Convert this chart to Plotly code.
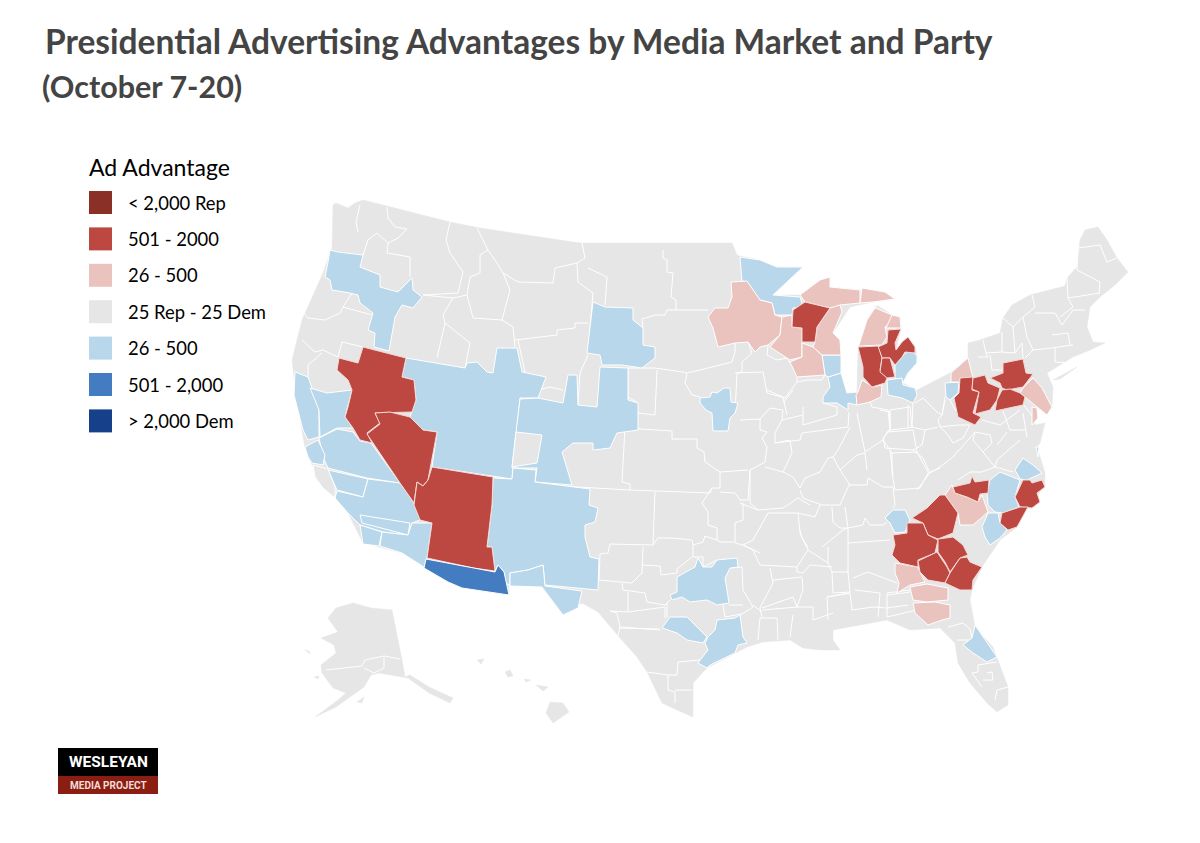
import plotly.graph_objects as go

# map shapes, x/y in picture units
US_OUTLINE = [(333,205),(336,203),(348,208),(355,203),(363,200),(450,222),(480,228),(580,243),(732,243),(737,255),(740,256),(760,260),(777,267),(803,267),(773,295),(800,295),(820,280),(830,277),(830,287),(860,290),(885,295),(895,299),(873,302),(850,307),(833,333),(840,340),(841,373),(847,393),(857,392),(858,350),(867,320),(877,305),(892,315),(900,317),(901,328),(896,350),(902,342),(908,337),(915,347),(917,355),(917,363),(908,373),(903,383),(917,390),(923,387),(950,373),(968,358),(968,343),(980,340),(1000,333),(1003,318),(1012,305),(1030,295),(1065,286),(1067,278),(1077,267),(1080,240),(1085,230),(1098,227),(1107,240),(1117,258),(1128,272),(1115,285),(1100,297),(1090,307),(1087,327),(1093,342),(1105,343),(1090,350),(1073,357),(1047,373),(1053,387),(1052,407),(1047,415),(1037,407),(1032,412),(1035,425),(1045,423),(1040,443),(1037,447),(1045,473),(1045,485),(1033,502),(1027,507),(1017,527),(1000,540),(982,567),(972,590),(970,600),(975,627),(993,647),(1008,687),(1008,705),(997,712),(987,703),(970,683),(958,663),(955,643),(940,628),(910,630),(887,620),(860,625),(833,630),(833,640),(840,650),(820,650),(803,648),(790,640),(763,642),(747,647),(707,668),(693,683),(693,717),(677,710),(662,703),(647,672),(637,657),(620,638),(598,612),(582,603),(563,615),(542,587),(509,585),(509,595),(462,588),(424,567),(402,553),(363,543),(348,513),(335,497),(312,465),(305,448),(297,403),(292,360),(302,320),(323,273),(332,248)]
LONG_ISLAND = [(1053,380),(1077,367),(1060,379)]
ALASKA = [(336,608),(353,603),(371,608),(392,610),(402,660),(405,677),(410,675),(429,687),(453,698),(450,703),(429,693),(408,678),(379,673),(371,675),(364,687),(350,697),(336,707),(315,717),(338,700),(346,693),(333,688),(322,673),(321,665),(336,653),(334,645),(321,638),(338,632),(328,618)]
ALASKA_KODIAK = [(357,702),(364,697),(362,703)]
ALASKA_NUNIVAK = [(314,677),(319,676),(318,679)]
ALASKA_LAWRENCE = [(305,650),(309,651),(310,654)]
HAWAII_BIG = [(550,702),(563,703),(569,712),(553,723),(546,713)]
HAWAII_MAUI = [(536,685),(548,687),(543,691)]
HAWAII_OAHU = [(505,672),(510,670),(513,676),(508,677)]
HAWAII_KAUAI = [(477,660),(484,659),(481,664)]
HAWAII_MOLOKAI = [(524,679),(531,680),(526,682)]

GRAY_LINES = [
    [(387,207),(388,218),(395,227),(407,229),(398,238),(388,243),(387,253),(410,257),(410,277)],
    [(377,233),(368,240),(363,255)], [(377,233),(388,243)],
    [(450,222),(446,240),(450,253),(463,272),(458,293),(423,295)],
    [(477,228),(488,250),(480,255),(480,273),(470,277),(467,295),(473,318),(502,320),(510,290),(503,273),(497,263),(488,250)],
    [(503,273),(518,282),(553,283),(555,268),(577,263),(585,258),(582,243)],
    [(577,263),(578,282),(593,293),(588,353)], [(588,268),(607,277),(605,305)],
    [(423,295),(453,298),(443,315),(445,323),(437,358)], [(445,323),(470,343),(465,368)], [(453,298),(467,295)],
    [(502,320),(513,327),(515,347)], [(515,340),(557,335),(557,330),(575,328),(575,323),(588,323)],
    [(518,340),(525,372)], [(538,390),(550,387),(563,390)], [(578,405),(580,373),(588,355)],
    [(303,312),(308,318),(325,320),(340,313),(343,307),(372,315)], [(343,307),(352,293)],
    [(302,340),(315,352),(323,350),(338,357)], [(338,357),(342,342),(363,347)], [(308,365),(322,353)], [(308,388),(308,365)],
    [(663,250),(663,258),(667,260),(667,272),(673,273),(671,297),(676,300),(676,310),(667,310),(665,315),(655,315),(642,319),(643,328)],
    [(676,310),(708,310)], [(628,368),(655,368),(683,372),(687,373),(712,367),(732,362),(735,352),(735,343)],
    [(748,342),(752,353),(742,362),(742,372),(737,373),(735,413)],
    [(768,345),(767,355),(777,360),(787,358),(790,363)],
    [(797,377),(797,382),(785,398),(767,393),(763,372),(735,373)], [(825,375),(822,380),(808,380),(797,382)],
    [(628,368),(628,397),(638,403)], [(657,370),(655,415),(638,413)], [(687,373),(685,383),(692,395),(700,397)],
    [(625,428),(672,431),(672,439),(697,439),(697,448),(704,452),(705,462),(718,470),(720,472),(748,470)],
    [(625,428),(622,482),(630,484),(630,490)], [(560,486),(630,490),(710,493),(712,488),(720,488),(720,472)],
    [(720,492),(735,493),(740,500),(748,500),(750,470)], [(655,492),(653,545),(610,544),(608,553),(600,554),(599,580)],
    [(599,580),(632,583),(642,573),(643,547)],
    [(653,545),(658,538),(672,538),(692,540),(693,545),(703,542),(705,536),(717,540),(720,542),(735,542),(735,523),(743,520),(743,503)],
    [(717,540),(717,528),(708,525),(708,512),(702,503),(712,488)],
    [(693,545),(693,557),(703,557),(703,567),(717,560)],
    [(643,565),(660,566),(661,575),(677,573),(677,569),(692,557)],
    [(622,583),(623,590),(645,593),(647,602),(665,605),(670,600)],
    [(628,592),(628,612),(610,611),(617,613),(620,627),(617,640)], [(628,612),(665,607),(665,618)], [(620,627),(660,630)],
    [(723,605),(725,617),(742,614),(753,607),(743,590),(742,567),(731,568)], [(735,543),(743,545),(760,553)],
    [(740,420),(760,419),(760,430),(767,432),(762,438),(767,447),(765,462),(750,470),(750,503),(758,510),(783,508),(798,498),(810,505)],
    [(775,443),(790,440),(792,453),(783,472),(765,467)],
    [(783,472),(793,477),(800,488),(805,478),(820,472),(828,458),(833,457)], [(800,490),(803,498)],
    [(803,498),(822,505),(840,505),(848,487),(850,485),(840,470),(833,457)],
    [(848,485),(867,485),(868,478),(883,487),(893,487),(895,505),(893,508)],
    [(840,470),(857,455),(865,453),(867,470)],
    [(865,452),(883,440),(892,453),(892,473),(895,490),(920,488),(928,473),(940,468)],
    [(892,453),(917,452),(928,472)], [(883,440),(887,432),(913,430),(915,443),(917,452)],
    [(887,432),(890,430),(890,410),(910,407),(912,428)],
    [(865,452),(859,423),(857,413)], [(850,427),(838,450),(833,457)],
    [(802,433),(848,427),(849,412)], [(803,407),(803,425),(837,415),(837,407),(823,403)],
    [(802,433),(800,440),(775,443)], [(783,410),(770,408),(760,419)], [(783,410),(782,420),(775,433),(775,443)], [(782,420),(803,415)],
    [(767,390),(783,397),(787,415)], [(793,390),(783,403)], [(740,503),(758,510)],
    [(768,513),(753,540),(743,545),(753,550),(760,565),(797,567),(808,550),(828,563),(828,547)],
    [(768,513),(798,513),(800,533),(808,550)], [(798,513),(815,517),(820,505)], [(800,530),(802,538),(808,547)],
    [(832,507),(833,522),(840,528),(848,528),(845,507)], [(822,547),(843,530),(848,528)],
    [(848,528),(848,572),(832,572),(828,563)], [(848,528),(863,525),(865,518),(870,525),(883,525),(887,522)],
    [(848,543),(890,540)], [(853,578),(868,572),(897,583)], [(797,567),(797,572),(803,573),(810,565),(832,567)],
    [(770,568),(773,583),(760,608),(762,617)], [(773,580),(802,577),(803,590),(797,607),(763,610)],
    [(832,572),(833,593),(850,592),(848,572)], [(827,597),(850,593)], [(827,597),(828,620)],
    [(887,593),(910,590)], [(887,593),(887,617),(917,610)], [(855,590),(880,593),(878,617)],
    [(880,410),(890,412),(890,430),(908,428),(908,405)], [(915,403),(923,398),(937,412),(942,415),(945,400)],
    [(942,415),(938,420),(940,427),(958,425),(970,425)], [(970,425),(963,438),(953,443),(948,435),(940,427)],
    [(908,428),(912,427),(925,430),(938,427)], [(890,430),(883,438),(885,448),(913,450),(922,445),(925,430)],
    [(913,450),(923,458),(930,473),(940,467),(953,457),(975,432),(990,435)], [(975,432),(973,440),(983,452),(992,443),(990,435)],
    [(983,452),(995,467),(997,460),(1020,440)], [(1007,432),(1002,438),(997,445)], [(890,450),(893,475)],
    [(930,473),(917,490)], [(958,480),(970,472),(982,472),(995,467)], [(995,467),(1013,472)],
    [(983,340),(986,353),(988,357),(978,357)], [(986,353),(1002,352),(1002,332)], [(990,355),(992,370),(1003,370)],
    [(1002,352),(1015,353),(1022,343),(1023,359)], [(1015,353),(1013,327),(1003,318)],
    [(1013,327),(1023,317),(1027,337),(1033,350),(1025,358)], [(1023,317),(1035,307),(1032,295)],
    [(1033,350),(1052,348),(1073,345)], [(1035,313),(1055,313),(1062,325),(1073,310),(1085,310)],
    [(1052,335),(1068,333),(1070,345)], [(1055,348),(1055,362),(1073,363)], [(1068,298),(1073,307),(1060,317)],
    [(1067,278),(1068,298),(1100,293)], [(1077,270),(1100,282),(1099,293)], [(1078,248),(1100,245),(1107,262),(1117,258)], [(1077,270),(1078,248)],
    [(326,670),(362,666),(365,660),(384,656),(400,659)], [(364,668),(374,673),(384,668),(384,657)],
    [(978,665),(978,672),(972,673),(982,687)], [(983,680),(993,680),(992,672),(987,673)], [(997,690),(1008,687)], [(997,690),(995,700)], [(978,665),(997,662)],
    [(948,627),(963,623),(970,629),(972,638)], [(957,640),(972,640)],
    [(762,608),(793,597),(797,607)], [(813,607),(813,620),(833,613)], [(797,607),(813,607)],
    [(758,640),(760,618),(777,618),(778,640)], [(790,637),(793,615)],
    [(827,597),(850,593),(852,610),(873,607),(887,608),(908,605)], [(888,595),(910,592)],
    [(667,603),(667,617)], [(620,628),(660,629)], [(678,662),(700,660)], [(678,662),(677,675),(668,675),(668,690),(675,692),(675,703)],
    [(647,672),(668,675)], [(675,690),(692,690)], [(729,605),(743,605)], [(753,605),(762,612)],
    [(870,402),(872,407),(888,410),(890,430)], [(913,403),(912,427)], [(945,397),(942,415)], [(950,400),(955,410),(968,422)],
    [(982,420),(1000,425),(1020,410)], [(1003,411),(1010,430),(1025,430)], [(1024,405),(1035,420)],
    [(360,205),(356,222),(358,232)], [(305,417),(305,425)], [(1023,413),(1027,437)],
]

REP_MID = [
    [(363,347),(406,358),(402,377),(414,380),(416,400),(412,412),(375,413),(380,423),(367,433),(372,443),(360,440),(353,428),(345,417),(348,407),(352,390),(348,380),(337,370),(339,358),(358,363)],
    [(375,413),(390,412),(410,417),(423,430),(437,432),(428,480),(423,486),(417,482),(414,503),(400,483),(367,434),(380,424)],
    [(432,467),(493,477),(492,505),(487,547),(492,547),(495,571),(473,568),(427,558),(432,523),(420,520),(414,505),(417,482),(423,486),(428,480)],
    [(805,302),(830,308),(817,327),(815,342),(802,342),(802,328),(792,327),(793,310)],
    [(888,330),(901,329),(895,343),(896,350),(902,342),(908,337),(915,347),(915,353),(905,352),(902,357),(895,365),(890,358),(882,358),(878,347),(887,343)],
    [(858,347),(878,346),(882,358),(880,370),(887,378),(885,383),(872,387),(863,377),(863,367)],
    [(882,358),(890,358),(895,377),(887,378),(880,372)],
    [(960,378),(973,377),(972,390),(979,392),(973,413),(981,417),(975,425),(968,422),(958,417),(954,398),(959,393)],
    [(973,378),(985,375),(988,383),(1000,388),(997,400),(990,410),(975,414),(979,392),(972,389)],
    [(990,378),(1003,373),(1003,363),(1023,359),(1026,373),(1033,374),(1023,387),(1007,390),(1002,388),(1000,383)],
    [(1002,390),(1010,389),(1020,393),(1025,397),(1023,405),(995,411),(997,400)],
    [(953,487),(970,483),(972,476),(975,482),(989,480),(988,493),(980,494),(978,502),(967,497),(955,493)],
    [(1017,493),(1023,480),(1030,480),(1032,483),(1042,480),(1045,487),(1037,493),(1040,502),(1032,508),(1020,507),(1015,497)],
    [(1002,513),(1020,507),(1028,507),(1017,527),(1008,530),(1000,523)],
    [(912,518),(927,508),(940,495),(945,495),(958,513),(953,533),(938,539),(928,535),(923,523)],
    [(893,535),(907,533),(907,523),(923,523),(928,535),(938,540),(935,553),(918,560),(918,567),(900,563),(892,555),(895,545)],
    [(938,539),(953,537),(963,545),(968,555),(960,558),(950,572),(945,562),(938,552)],
    [(918,561),(937,552),(947,567),(950,573),(945,583),(928,580),(920,572)],
    [(950,573),(960,558),(967,557),(970,562),(982,567),(973,580),(972,590),(960,590),(945,583)],
]
REP_LIGHT = [
    [(731,282),(747,281),(760,300),(772,303),(775,315),(782,317),(780,335),(768,345),(760,347),(755,352),(748,342),(735,343),(718,347),(713,328),(708,317),(715,308),(728,308),(732,297)],
    [(782,317),(792,315),(792,327),(802,328),(802,357),(790,360),(770,347),(780,335)],
    [(802,343),(813,347),(822,355),(825,375),(797,377),(790,362),(802,357)],
    [(800,295),(820,280),(830,277),(830,287),(860,290),(860,303),(840,305),(833,310),(830,308),(805,302)],
    [(830,308),(840,305),(842,312),(833,333),(840,340),(841,355),(822,355),(813,347),(815,342),(817,327)],
    [(862,288),(885,292),(895,299),(873,302),(860,303)],
    [(873,307),(892,315),(893,322),(885,327),(887,337),(882,345),(860,346),(858,348),(867,320),(877,305)],
    [(892,315),(900,317),(901,328),(886,328)],
    [(862,380),(873,387),(882,385),(881,397),(870,402),(857,405),(856,395),(858,392)],
    [(968,358),(972,375),(973,378),(960,378),(960,382),(951,382),(951,373)],
    [(1023,388),(1033,378),(1042,388),(1052,407),(1047,415),(1037,407),(1025,397),(1020,393)],
    [(1032,407),(1037,408),(1038,418),(1032,425)],
    [(945,495),(952,485),(955,493),(967,497),(978,502),(982,495),(988,512),(982,517),(973,525),(960,525),(958,513)],
    [(895,563),(918,567),(920,572),(925,582),(910,585),(897,593),(899,583),(895,573)],
    [(910,587),(927,584),(948,588),(948,600),(927,602),(913,600)],
    [(913,603),(935,602),(950,605),(950,618),(942,620),(928,625),(915,613)],
]
DEM_LIGHT = [
    [(330,250),(338,252),(363,255),(360,267),(380,275),(380,287),(398,292),(412,278),(413,290),(422,297),(413,308),(402,305),(395,317),(389,351),(374,347),(375,333),(368,330),(373,313),(360,303),(358,295),(350,293),(332,290),(330,280),(325,277),(328,262)],
    [(406,358),(465,368),(467,363),(477,362),(487,372),(493,373),(497,348),(517,348),(522,372),(546,377),(538,398),(520,398),(512,479),(432,467),(437,432),(423,430),(410,417),(412,412),(416,400),(414,380),(402,377)],
    [(520,399),(538,398),(563,403),(568,375),(577,375),(578,405),(597,407),(600,367),(628,368),(628,400),(638,403),(638,430),(617,433),(610,448),(593,450),(593,443),(573,443),(562,452),(572,485),(535,482),(537,468),(512,468),(516,432)],
    [(493,478),(512,479),(513,468),(536,470),(535,482),(590,489),(589,505),(598,508),(595,522),(585,525),(585,537),(590,557),(599,559),(598,590),(545,585),(543,565),(528,570),(510,573),(510,585),(505,583),(504,572),(498,565),(495,571),(492,547),(487,547),(492,505)],
    [(510,573),(528,570),(543,565),(545,586),(582,591),(578,608),(563,615),(542,587),(510,586)],
    [(593,302),(605,307),(633,308),(633,320),(643,328),(643,345),(655,347),(655,358),(642,368),(622,365),(602,365),(600,355),(587,353)],
    [(295,372),(308,377),(319,407),(319,437),(308,440),(303,430),(294,395)],
    [(310,388),(327,393),(352,390),(345,417),(353,428),(337,428),(320,437),(319,410)],
    [(319,438),(337,429),(353,432),(360,441),(371,443),(400,483),(367,478),(328,468),(323,457)],
    [(305,447),(318,440),(325,455),(323,465),(312,463),(308,457)],
    [(328,470),(368,479),(363,497),(337,490)],
    [(368,479),(400,483),(414,503),(420,520),(412,523),(408,535),(383,532),(360,525),(348,513),(335,498),(337,491),(363,497)],
    [(360,515),(410,523),(408,535),(362,523)],
    [(360,525),(382,532),(379,546),(363,544)],
    [(382,532),(408,535),(412,523),(432,523),(427,558),(424,567),(402,553),(380,546)],
    [(740,257),(760,260),(777,267),(803,267),(773,295),(800,297),(803,307),(793,308),(792,315),(775,315),(772,303),(760,300),(747,282),(742,281)],
    [(905,353),(912,352),(917,355),(917,363),(908,373),(903,383),(895,378),(895,365),(902,357)],
    [(887,380),(902,378),(903,385),(915,388),(917,395),(913,403),(902,398),(888,395)],
    [(828,377),(841,373),(847,393),(857,392),(860,393),(857,405),(848,403),(848,410),(837,403),(823,403),(823,397),(830,387)],
    [(822,355),(841,355),(841,373),(828,377),(825,375)],
    [(700,398),(710,397),(712,392),(717,393),(724,388),(730,388),(731,402),(738,403),(735,413),(730,418),(728,431),(713,431),(712,413),(706,410),(700,403)],
    [(945,383),(959,382),(958,393),(950,400),(946,397)],
    [(885,518),(893,510),(905,510),(910,520),(905,532),(895,533),(890,523)],
    [(990,480),(1000,472),(1015,478),(1020,480),(1015,497),(1019,507),(1003,513),(995,512),(988,505),(987,493)],
    [(1015,470),(1023,458),(1033,465),(1042,473),(1027,480),(1020,479)],
    [(1036,447),(1039,447),(1038,457)],
    [(982,527),(988,513),(998,513),(1000,523),(1007,530),(1000,538),(990,545),(985,537)],
    [(975,625),(983,637),(997,657),(987,662),(973,653),(963,645),(972,638)],
    [(670,595),(677,592),(677,577),(695,567),(698,558),(703,567),(712,567),(717,560),(737,558),(738,567),(730,568),(725,578),(729,603),(717,605),(707,600),(690,602),(682,597),(672,600)],
    [(662,628),(670,617),(687,617),(698,628),(707,637),(703,643),(687,640),(677,633)],
    [(717,620),(735,618),(740,615),(743,637),(747,643),(738,645),(735,653),(710,665),(707,668),(698,663),(708,650),(705,643),(708,637),(715,630)],
]
DEM_MID = [
    [(426,559),(473,568),(495,572),(498,565),(504,572),(509,595),(462,588),(448,582),(424,568)],
]
GRAY_PATCHES = [
    [(516,432),(542,435),(537,463),(512,467)],
    [(313,465),(328,469),(335,487),(335,498),(323,488),(315,477)],
]

LEGEND_COLORS = ["#8A3026", "#BD4841", "#EAC3BE", "#E6E6E6", "#B8D7EA", "#437CC0", "#17408A"]
LEGEND_LABELS = ["< 2,000 Rep", "501 - 2000", "26 - 500", "25 Rep - 25 Dem", "26 - 500", "501 - 2,000", "> 2,000 Dem"]
LEGEND_TITLE = "Ad Advantage"
TITLE = "Presidential Advertising Advantages by Media Market and Party"
SUBTITLE = "(October 7-20)"

GRAY = LEGEND_COLORS[3]
FONT = "Lato"

fig = go.Figure()

def addPolygon(points, color, lineColor="white", lineWidth=1):
    xs = [p[0] for p in points] + [points[0][0]]
    ys = [p[1] for p in points] + [points[0][1]]
    fig.add_trace(go.Scatter(x=xs, y=ys, mode="lines", fill="toself", fillcolor=color,
        line=dict(color=lineColor, width=lineWidth), hoverinfo="skip", showlegend=False))

for shape in [US_OUTLINE, LONG_ISLAND, ALASKA, ALASKA_KODIAK, ALASKA_NUNIVAK, ALASKA_LAWRENCE,
              HAWAII_BIG, HAWAII_MAUI, HAWAII_OAHU, HAWAII_KAUAI, HAWAII_MOLOKAI]:
    addPolygon(shape, GRAY, GRAY, 0.5)

for line in GRAY_LINES:
    fig.add_trace(go.Scatter(x=[p[0] for p in line], y=[p[1] for p in line], mode="lines",
        line=dict(color="white", width=1), hoverinfo="skip", showlegend=False))

for poly in DEM_LIGHT:
    addPolygon(poly, LEGEND_COLORS[4])
for poly in GRAY_PATCHES:
    addPolygon(poly, GRAY)
for poly in REP_LIGHT:
    addPolygon(poly, LEGEND_COLORS[2])
for poly in REP_MID:
    addPolygon(poly, LEGEND_COLORS[1], "#F6DAD6")
for poly in DEM_MID:
    addPolygon(poly, LEGEND_COLORS[5])

annotations = [
    dict(x=43, y=41, text="<b>%s</b>" % TITLE, font=dict(family=FONT, size=33.5, color="#444444")),
    dict(x=40, y=86, text="<b>%s</b>" % SUBTITLE, font=dict(family=FONT, size=30.5, color="#444444")),
    dict(x=87, y=167, text=LEGEND_TITLE, font=dict(family=FONT, size=23, color="black")),
]
shapes = []
#legend swatches and labels
for i, (color, label) in enumerate(zip(LEGEND_COLORS, LEGEND_LABELS)):
    top = 191 + i * 36.4
    shapes.append(dict(type="rect", x0=89, x1=112, y0=top, y1=top + 23, fillcolor=color, line_width=0, layer="above"))
    annotations.append(dict(x=125.5, y=top + 11.5, text=label, font=dict(family=FONT, size=18.4, color="black")))

#logo
shapes.append(dict(type="rect", x0=58, x1=158, y0=748, y1=776, fillcolor="black", line_width=0))
shapes.append(dict(type="rect", x0=58, x1=158, y0=776, y1=794, fillcolor="#8B1E12", line_width=0))
annotations.append(dict(x=108, y=762, text="<b>WESLEYAN</b>", xanchor="center", font=dict(family="Roboto", size=15.5, color="white")))
annotations.append(dict(x=108, y=785, text="<b>MEDIA PROJECT</b>", xanchor="center", font=dict(family="Roboto", size=10, color="#F3DDD8")))

for a in annotations:
    a.setdefault("xanchor", "left")
    a.update(xref="x", yref="y", yanchor="middle", showarrow=False)

fig.update_layout(width=1200, height=843, margin=dict(l=0, r=0, t=0, b=0),
    paper_bgcolor="white", plot_bgcolor="white", showlegend=False,
    annotations=annotations, shapes=shapes,
    xaxis=dict(range=[0, 1200], visible=False, fixedrange=True),
    yaxis=dict(range=[843, 0], visible=False, fixedrange=True))

fig.write_html("out.html", config={"displayModeBar": False},
    post_script="document.body.style.margin='0';")
